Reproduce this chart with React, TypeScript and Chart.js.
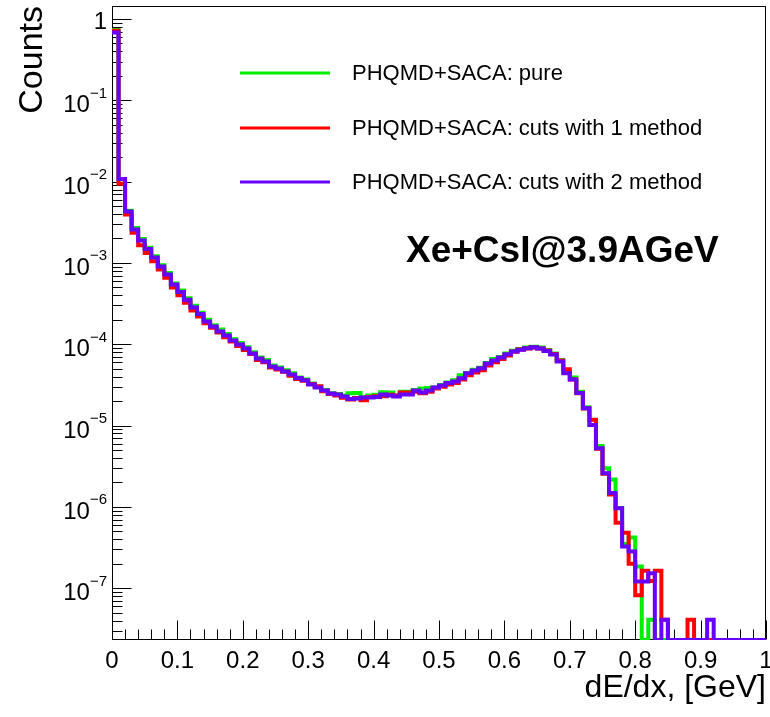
import { useEffect, useRef } from 'react';
import { Chart, registerables } from 'chart.js';

Chart.register(...registerables);

const N_BINS = 100;
const X_MIN = 0;
const X_MAX = 1;
const Y_MIN = 2.31e-8;
const Y_MAX = 1.445;

const X_TICK_LABELS = ['0', '0.1', '0.2', '0.3', '0.4', '0.5', '0.6', '0.7', '0.8', '0.9', '1'];
const Y_DECADE_EXPONENTS = [0, -1, -2, -3, -4, -5, -6, -7];

const SERIES_NAMES = [
  'PHQMD+SACA: pure',
  'PHQMD+SACA: cuts with 1 method',
  'PHQMD+SACA: cuts with 2 method',
];
const SERIES_COLORS = ['#00ee00', '#ff0000', '#6600ff'];

// bin contents, 100 bins of width 0.01 (0 = empty bin)
const PURE = [
  0.73, 1.08e-2, 4.40e-3, 2.70e-3, 1.97e-3, 1.54e-3, 1.21e-3, 9.4e-4, 7.55e-4, 5.6e-4,
  4.6e-4, 3.68e-4, 2.97e-4, 2.45e-4, 2.0e-4, 1.72e-4, 1.52e-4, 1.34e-4, 1.15e-4, 1.04e-4,
  9.2e-5, 8.0e-5, 6.9e-5, 6.4e-5, 5.5e-5, 5.2e-5, 4.8e-5, 4.4e-5, 3.9e-5, 3.7e-5,
  3.3e-5, 3.0e-5, 2.75e-5, 2.5e-5, 2.45e-5, 2.35e-5, 2.5e-5, 2.52e-5, 2.25e-5, 2.35e-5,
  2.4e-5, 2.58e-5, 2.55e-5, 2.35e-5, 2.6e-5, 2.6e-5, 2.75e-5, 2.85e-5, 2.9e-5, 2.95e-5,
  3.15e-5, 3.4e-5, 3.6e-5, 4.15e-5, 4.45e-5, 4.85e-5, 5.15e-5, 5.9e-5, 6.6e-5, 7.0e-5,
  7.7e-5, 8.3e-5, 8.75e-5, 9.1e-5, 9.3e-5, 9.1e-5, 8.5e-5, 7.7e-5, 6.4e-5, 4.6e-5,
  3.9e-5, 2.6e-5, 1.68e-5, 1.02e-5, 5.6e-6, 3.0e-6, 2.18e-6, 9.7e-7, 3.5e-7, 4.2e-7,
  1.85e-7, 0, 4.1e-8, 0, 0, 0, 0, 0, 0, 0,
  0, 0, 0, 0, 0, 0, 0, 0, 0, 0,
];

const CUTS_1 = [
  0.715, 9.4e-3, 3.95e-3, 2.35e-3, 1.65e-3, 1.33e-3, 1.05e-3, 8.3e-4, 6.6e-4, 5.0e-4,
  4.0e-4, 3.25e-4, 2.6e-4, 2.2e-4, 1.82e-4, 1.6e-4, 1.4e-4, 1.22e-4, 1.08e-4, 9.5e-5,
  8.5e-5, 7.6e-5, 6.4e-5, 6.0e-5, 5.2e-5, 4.9e-5, 4.6e-5, 4.1e-5, 3.75e-5, 3.55e-5,
  3.25e-5, 3.05e-5, 2.65e-5, 2.45e-5, 2.35e-5, 2.2e-5, 2.1e-5, 2.18e-5, 2.05e-5, 2.25e-5,
  2.3e-5, 2.3e-5, 2.4e-5, 2.35e-5, 2.55e-5, 2.55e-5, 2.6e-5, 2.5e-5, 2.6e-5, 2.85e-5,
  3.0e-5, 3.2e-5, 3.35e-5, 3.7e-5, 4.15e-5, 4.5e-5, 4.8e-5, 5.5e-5, 6.0e-5, 6.6e-5,
  7.3e-5, 8.1e-5, 8.6e-5, 8.9e-5, 9.1e-5, 8.9e-5, 8.4e-5, 7.6e-5, 6.3e-5, 4.94e-5,
  3.7e-5, 2.5e-5, 1.62e-5, 1.18e-5, 5.2e-6, 2.55e-6, 1.42e-6, 6.4e-7, 4.8e-7, 2.0e-7,
  8.2e-8, 1.64e-7, 1.23e-7, 1.64e-7, 4.1e-8, 0, 0, 0, 4.1e-8, 0,
  0, 0, 0, 0, 0, 0, 0, 0, 0, 0,
];

const CUTS_2 = [
  0.68, 1.08e-2, 4.30e-3, 2.58e-3, 1.89e-3, 1.48e-3, 1.17e-3, 9.05e-4, 7.22e-4, 5.44e-4,
  4.38e-4, 3.53e-4, 2.84e-4, 2.35e-4, 1.91e-4, 1.66e-4, 1.44e-4, 1.28e-4, 1.11e-4, 9.95e-5,
  8.89e-5, 7.71e-5, 6.69e-5, 6.15e-5, 5.34e-5, 5.04e-5, 4.63e-5, 4.26e-5, 3.85e-5, 3.6e-5,
  3.21e-5, 2.94e-5, 2.71e-5, 2.48e-5, 2.42e-5, 2.28e-5, 2.13e-5, 2.16e-5, 2.22e-5, 2.22e-5,
  2.25e-5, 2.42e-5, 2.35e-5, 2.28e-5, 2.42e-5, 2.42e-5, 2.71e-5, 2.56e-5, 2.71e-5, 2.94e-5,
  3.12e-5, 3.33e-5, 3.49e-5, 3.83e-5, 4.41e-5, 4.77e-5, 5.08e-5, 5.81e-5, 6.33e-5, 6.89e-5,
  7.55e-5, 8.16e-5, 8.57e-5, 8.96e-5, 9.22e-5, 8.89e-5, 8.28e-5, 7.5e-5, 6.15e-5, 4.41e-5,
  3.7e-5, 2.51e-5, 1.64e-5, 1.02e-5, 5.28e-6, 2.6e-6, 1.48e-6, 9.66e-7, 3.27e-7, 2.83e-7,
  1.21e-7, 1.21e-7, 1.53e-7, 0, 4.1e-8, 0, 0, 0, 0, 0,
  0, 4.1e-8, 0, 0, 0, 0, 0, 0, 0, 0,
];

const SERIES = [PURE, CUTS_1, CUTS_2];

const FONT = '"Liberation Sans", Arial, Helvetica, sans-serif';

function toSteps(values: number[]) {
  const pts: { x: number; y: number }[] = [];
  const w = (X_MAX - X_MIN) / N_BINS;
  values.forEach((v, i) => {
    pts.push({ x: X_MIN + i * w, y: v > 0 ? v : Y_MIN });
  });
  const last = values[values.length - 1];
  pts.push({ x: X_MAX, y: last > 0 ? last : Y_MIN });
  return pts;
}

const rootAxesPlugin = {
  id: 'rootAxes',
  beforeDatasetsDraw(chart: any) {
    const { ctx, chartArea } = chart;
    const xs = chart.scales.x;
    const ys = chart.scales.y;
    const { left, right, top, bottom } = chartArea;
    ctx.save();
    ctx.strokeStyle = '#000';
    ctx.lineWidth = 1;
    // frame
    ctx.strokeRect(Math.round(left) + 0.5, Math.round(top) + 0.5, Math.round(right - left) - 1, Math.round(bottom - top) - 1);

    const bx = Math.round(left) + 0.5;
    const by = Math.round(bottom) - 0.5;
    ctx.beginPath();
    // x ticks
    for (let j = 0; j <= 50; j++) {
      const v = X_MIN + (j * (X_MAX - X_MIN)) / 50;
      const px = Math.round(xs.getPixelForValue(v)) + 0.5;
      const len = j % 5 === 0 ? 19 : 10;
      ctx.moveTo(px, by);
      ctx.lineTo(px, by - len);
    }
    // y ticks
    for (let e = -9; e <= 1; e++) {
      for (let m = 1; m <= 9; m++) {
        const v = m * Math.pow(10, e);
        if (v < Y_MIN || v > Y_MAX) continue;
        const py = Math.round(ys.getPixelForValue(v)) + 0.5;
        const len = m === 1 ? 19 : 10;
        ctx.moveTo(bx, py);
        ctx.lineTo(bx + len, py);
      }
    }
    ctx.stroke();

    ctx.fillStyle = '#000';
    // x tick labels
    ctx.font = `24px ${FONT}`;
    ctx.textAlign = 'center';
    ctx.textBaseline = 'alphabetic';
    X_TICK_LABELS.forEach((lab, k) => {
      const v = X_MIN + (k * (X_MAX - X_MIN)) / (X_TICK_LABELS.length - 1);
      ctx.fillText(lab, xs.getPixelForValue(v), bottom + 28);
    });

    // y tick labels
    const labRight = left - 5;
    Y_DECADE_EXPONENTS.forEach((ex) => {
      const py = ys.getPixelForValue(Math.pow(10, ex));
      ctx.textAlign = 'right';
      if (ex === 0) {
        ctx.font = `24px ${FONT}`;
        ctx.fillText('1', labRight, py + 10);
      } else {
        ctx.font = `15px ${FONT}`;
        const sup = '\u2212' + String(-ex);
        const sw = ctx.measureText(sup).width;
        ctx.fillText(sup, labRight, py - 2.5);
        ctx.font = `24px ${FONT}`;
        ctx.fillText('10', labRight - sw, py + 12);
      }
    });

    // axis titles
    ctx.font = `32px ${FONT}`;
    ctx.textAlign = 'right';
    ctx.fillText('dE/dx, [GeV]', right, 697);
    ctx.save();
    ctx.translate(42, top);
    ctx.rotate(-Math.PI / 2);
    ctx.font = `34px ${FONT}`;
    ctx.textAlign = 'right';
    ctx.fillText('Counts', 0, 0);
    ctx.restore();

    // annotation
    ctx.font = `bold 37px ${FONT}`;
    ctx.textAlign = 'left';
    ctx.fillText('Xe+CsI@3.9AGeV', 406, 262);

    // legend
    const legendY = [73, 128, 182];
    SERIES_NAMES.forEach((name, i) => {
      ctx.strokeStyle = SERIES_COLORS[i];
      ctx.lineWidth = 3;
      ctx.beginPath();
      ctx.moveTo(240, legendY[i]);
      ctx.lineTo(330, legendY[i]);
      ctx.stroke();
      ctx.font = `22px ${FONT}`;
      ctx.textBaseline = 'middle';
      ctx.textAlign = 'left';
      ctx.fillStyle = '#000';
      ctx.fillText(name, 352, legendY[i] + 1);
    });
    ctx.restore();
  },
};

export default function App() {
  const ref = useRef<HTMLCanvasElement | null>(null);
  useEffect(() => {
    if (!ref.current) return;
    const chart = new Chart(ref.current, {
      type: 'line',
      data: {
        datasets: SERIES.map((vals, i) => ({
          label: SERIES_NAMES[i],
          data: toSteps(vals),
          borderColor: SERIES_COLORS[i],
          borderWidth: 4,
          pointRadius: 0,
          stepped: true,
          fill: false,
          tension: 0,
          order: SERIES.length - i,
        })),
      },
      options: {
        animation: false,
        responsive: false,
        devicePixelRatio: 1,
        layout: { padding: { left: 112, right: 4, top: 6, bottom: 77 } },
        scales: {
          x: { type: 'linear', min: X_MIN, max: X_MAX, display: false },
          y: { type: 'logarithmic', min: Y_MIN, max: Y_MAX, display: false },
        },
        plugins: { legend: { display: false }, tooltip: { enabled: false } },
        events: [],
      },
      plugins: [rootAxesPlugin],
    });
    return () => chart.destroy();
  }, []);
  return (
    <div style={{ position: 'fixed', left: 0, top: 0, width: 770, height: 717, background: '#fff' }}>
      <canvas ref={ref} width={770} height={717} style={{ width: 770, height: 717 }} />
    </div>
  );
}
